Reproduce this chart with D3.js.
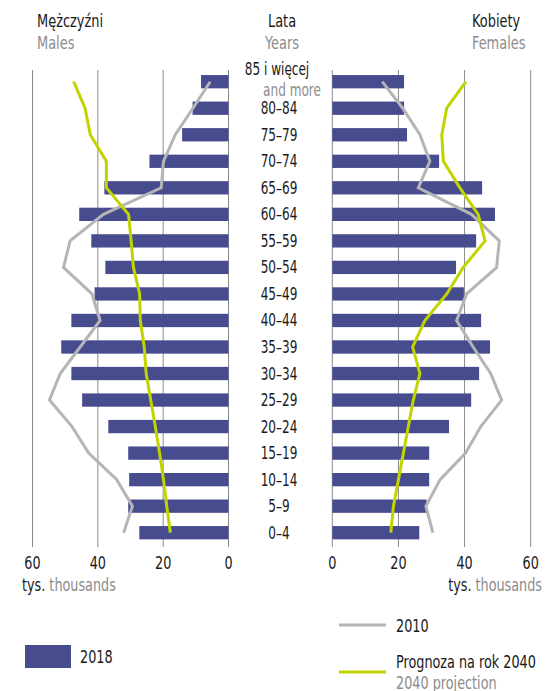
<!DOCTYPE html>
<html>
<head>
<meta charset="utf-8">
<script src="https://cdn.jsdelivr.net/npm/d3@7"></script>
<style>
  body { margin: 0; background: #fff; }
  svg text { font-family: "Liberation Sans Narrow", "DejaVu Sans Condensed", "Roboto", sans-serif; }
</style>
</head>
<body>
<svg id="chart"></svg>
<script>
// Full size of the svg element.
const WIDTH = 552
const HEIGHT = 691

// Age groups, top to bottom.
const ages = ["85 i więcej", "80–84", "75–79", "70–74", "65–69", "60–64", "55–59", "50–54",
  "45–49", "40–44", "35–39", "30–34", "25–29", "20–24", "15–19", "10–14", "5–9", "0–4"]

// Thousands of people, same order as ages.
const males2018 = [8.4, 11, 14.2, 24.2, 38, 45.7, 42, 37.7, 41, 48.1, 51.2, 48.1, 44.8, 36.8, 30.7, 30.4, 30.7, 27.3]
const females2018 = [21.7, 21.7, 22.6, 32.3, 45.3, 49.2, 43.5, 37.4, 39.8, 45, 47.7, 44.4, 42, 35.3, 29.3, 29.3, 28.5, 26.3]
const males2010 = [5.6, 10.9, 16.3, 19.9, 20.6, 38.3, 48.5, 50.5, 41.8, 39.3, 45.4, 51.5, 54.8, 47.9, 42.8, 34.2, 29.4, 32.1]
const females2010 = [15.1, 21.3, 26.5, 29.5, 26, 42.1, 50.5, 49.7, 40.6, 37.6, 42.6, 47.9, 51.2, 44.9, 40.3, 32.6, 28.3, 30.4]
const males2040 = [47.4, 43.9, 42.3, 37.4, 37.4, 30.6, 29.8, 29.1, 27.2, 27, 25.8, 25.2, 23.8, 22.4, 21.1, 19.9, 18.9, 17.8]
const females2040 = [40.4, 34.6, 33.1, 33.6, 38.6, 44.1, 46.2, 39.6, 34.6, 28, 24.3, 26.5, 24.5, 23, 21.5, 20, 18.5, 17.7]

const ticks = [0, 20, 40, 60]

const BAR_COLOR = "#474c8f"
const GRAY = "#b5b5b5"
const GREEN = "#c2d400"
const TEXT = "#1a1a1a"
const SUB = "#8c8c8c"

const BAR_H = 13.3
const GRID_TOP = 70
const GRID_BOTTOM = 547
// The original uses a tall condensed face; squeeze the fallback font to match.
const SQUEEZE = 0.79

const svg = d3.select("#chart").attr("width", WIDTH).attr("height", HEIGHT)

// Adds a horizontally squeezed text at (x, y).
function label(parent, x, y, str, color, size, anchor, squeeze) {
  return parent.append("text")
    .attr("transform", `translate(${x},${y}) scale(${squeeze || SQUEEZE},1)`)
    .attr("text-anchor", anchor || "start")
    .attr("font-size", size || 18)
    .attr("fill", color || TEXT)
    .text(str)
}

// Row centers.
const yScale = d3.scalePoint().domain(ages).range([81.7, 532.7])

// Males grow to the left, females to the right.
const xLeft = d3.scaleLinear().domain([0, 60]).range([228.5, 32.5])
const xRight = d3.scaleLinear().domain([0, 60]).range([332.3, 530.7])

// Vertical grid lines with tick labels below.
function grid(scale) {
  svg.append("g")
    .selectAll("line")
    .data(ticks)
    .join("line")
    .attr("x1", (d) => scale(d)).attr("x2", (d) => scale(d))
    .attr("y1", GRID_TOP).attr("y2", GRID_BOTTOM)
    .attr("stroke", "#8a8a8a").attr("stroke-width", 1)
  const g = svg.append("g")
  ticks.forEach((d) => label(g, scale(d), 569, d, TEXT, 18, "middle"))
}
grid(xLeft)
grid(xRight)

// Bars for 2018.
svg.append("g")
  .selectAll("rect")
  .data(males2018)
  .join("rect")
  .attr("x", (d) => xLeft(d))
  .attr("width", (d) => xLeft(0) - xLeft(d))
  .attr("y", (d, i) => yScale(ages[i]) - BAR_H / 2)
  .attr("height", BAR_H)
  .attr("fill", BAR_COLOR)

svg.append("g")
  .selectAll("rect")
  .data(females2018)
  .join("rect")
  .attr("x", xRight(0))
  .attr("width", (d) => xRight(d) - xRight(0))
  .attr("y", (d, i) => yScale(ages[i]) - BAR_H / 2)
  .attr("height", BAR_H)
  .attr("fill", BAR_COLOR)

// Lines for 2010 and the 2040 projection.
function drawLine(values, scale, color) {
  const line = d3.line()
    .x((d) => scale(d))
    .y((d, i) => yScale(ages[i]))
  svg.append("path")
    .datum(values)
    .attr("d", line)
    .attr("fill", "none")
    .attr("stroke", color)
    .attr("stroke-width", 3)
}
drawLine(males2010, xLeft, GRAY)
drawLine(females2010, xRight, GRAY)
drawLine(males2040, xLeft, GREEN)
drawLine(females2040, xRight, GREEN)

// Age labels in the middle column.
const labels = svg.append("g")
ages.slice(1).forEach((d) => label(labels, 279, yScale(d) + 6, d, TEXT, 17, "middle"))
label(labels, 277, 75, ages[0], TEXT, 17, "middle")
label(labels, 292, 96, "and more", SUB, 17, "middle")

// Headers.
function header(x, y, anchor, main, sub) {
  const g = svg.append("g")
  label(g, x, y, main, TEXT, 18, anchor, 0.8)
  label(g, x, y + 22, sub, SUB, 18, anchor, 0.8)
}
header(37, 27, "start", "Mężczyźni", "Males")
header(282, 27, "middle", "Lata", "Years")
header(472, 27, "start", "Kobiety", "Females")

// Unit labels.
function unit(x, anchor) {
  const t = label(svg, x, 591, "", TEXT, 18, anchor)
  t.append("tspan").attr("fill", TEXT).text("tys. ")
  t.append("tspan").attr("fill", SUB).text("thousands")
}
unit(22, "start")
unit(542, "end")

// Legend.
const legend = svg.append("g")
legend.append("rect").attr("x", 25).attr("y", 645).attr("width", 46).attr("height", 23).attr("fill", BAR_COLOR)
label(legend, 80, 663, "2018", TEXT, 18.5, "start", 0.77)
legend.append("line").attr("x1", 339).attr("x2", 386).attr("y1", 625).attr("y2", 625)
  .attr("stroke", GRAY).attr("stroke-width", 3)
label(legend, 396, 632, "2010", TEXT, 18.5, "start", 0.77)
legend.append("line").attr("x1", 339).attr("x2", 386).attr("y1", 672).attr("y2", 672)
  .attr("stroke", GREEN).attr("stroke-width", 3)
label(legend, 396, 668, "Prognoza na rok 2040", TEXT, 18.5, "start", 0.77)
label(legend, 396, 689, "2040 projection", SUB, 18.5, "start", 0.77)
</script>
</body>
</html>
